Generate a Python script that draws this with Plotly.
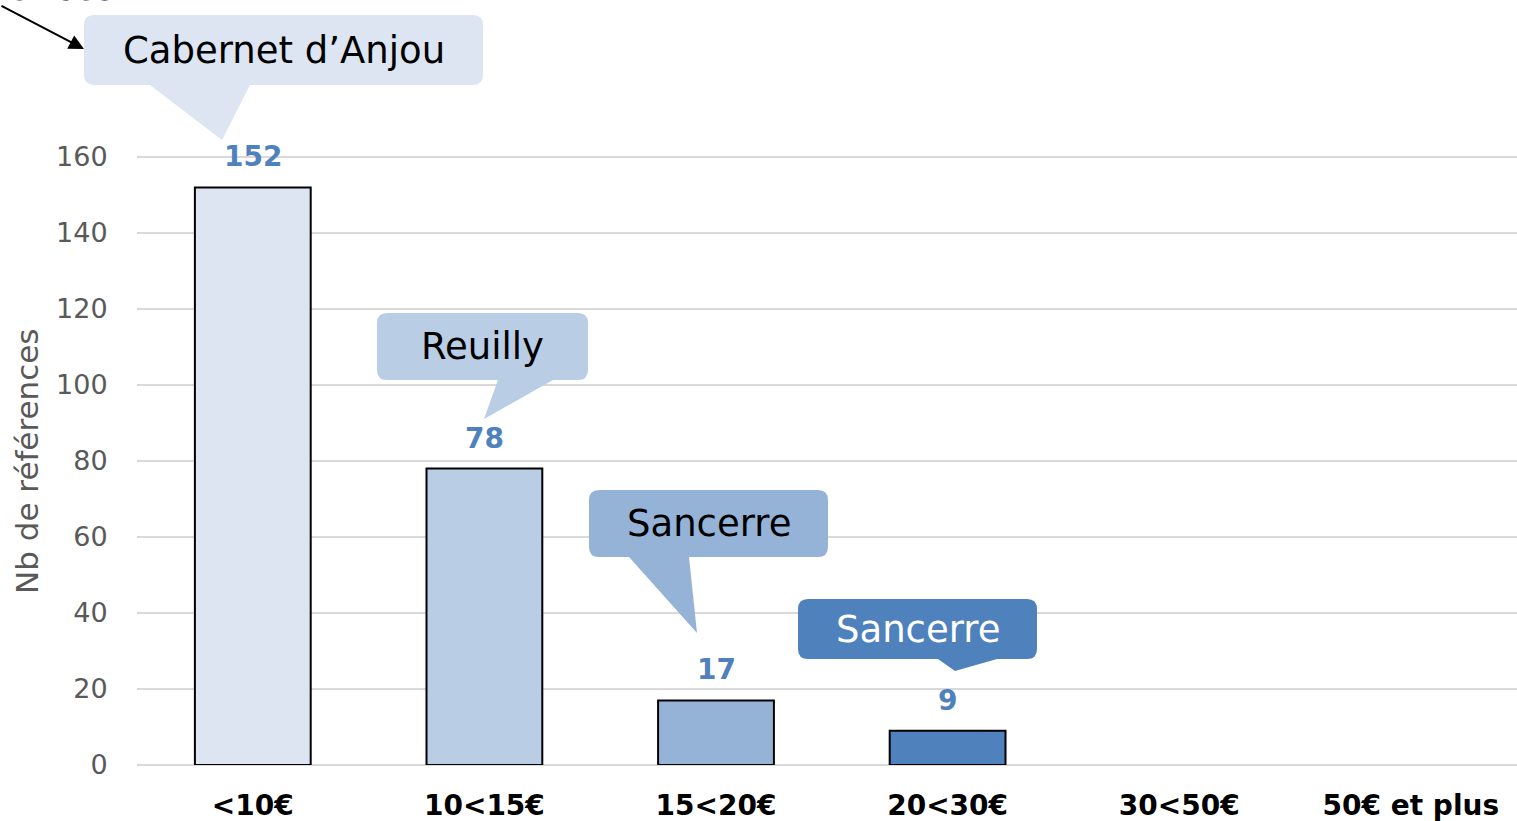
import plotly.graph_objects as go

# ---- data ----
categories = ["<10€", "10<15€", "15<20€", "20<30€", "30<50€", "50€ et plus"]
values = [152, 78, 17, 9, None, None]
bar_colors = ["#DCE5F1", "#B9CDE5", "#95B3D7", "#4F81BD", "#4F81BD", "#4F81BD"]
y_ticks = [0, 20, 40, 60, 80, 100, 120, 140, 160]
y_title = "Nb de références"
callout_texts = ["Cabernet d’Anjou", "Reuilly", "Sancerre", "Sancerre"]
callout_fills = ["#DCE5F1", "#B9CDE5", "#95B3D7", "#4F81BD"]
callout_font_colors = ["#000000", "#000000", "#000000", "#FFFFFF"]

FONT = "DejaVu Sans"
W_FIG, H_FIG = 1517, 821
L, T, R, B = 137, 5, 0, 56
PW, PH = W_FIG - L - R, H_FIG - T - B


def px(x):
    return (x - L) / PW


def py(y):
    return (T + PH - y) / PH


idx = list(range(len(categories)))
fig = go.Figure()
fig.add_trace(go.Bar(
    x=idx, y=values, width=0.5,
    marker=dict(color=bar_colors, line=dict(color="#000000", width=2)),
    hoverinfo="skip",
))

annotations = []
for i, v in zip(idx, values):
    if v is None:
        continue
    annotations.append(dict(
        x=i, y=v, xref="x", yref="y", text=f"<b>{v}</b>", showarrow=False,
        yanchor="bottom", yshift=12,
        font=dict(family=FONT, size=28, color="#4F81BD"),
    ))

# callouts: (box x0, x1, y0, y1, pointer base left, tip x, tip y, pointer base right) in pixels
callout_geom = [
    (84, 483, 15, 85, 150, 222, 140, 250),
    (377, 588, 313, 380, 498, 484, 419, 553),
    (589, 828, 490, 557, 629, 697, 633, 689),
    (798, 1037, 599, 659, 938, 955, 671, 997),
]
shapes = []
for (x0, x1, y0, y1, b1, tx, ty, b2), fill, txt, fc in zip(
        callout_geom, callout_fills, callout_texts, callout_font_colors):
    r = 10
    pts = [
        ("M", (x0 + r, y0)), ("L", (x1 - r, y0)), ("Q", (x1, y0), (x1, y0 + r)),
        ("L", (x1, y1 - r)), ("Q", (x1, y1), (x1 - r, y1)),
        ("L", (b2, y1)), ("L", (tx, ty)), ("L", (b1, y1)),
        ("L", (x0 + r, y1)), ("Q", (x0, y1), (x0, y1 - r)),
        ("L", (x0, y0 + r)), ("Q", (x0, y0), (x0 + r, y0)),
    ]
    path = ""
    for p in pts:
        cmd = p[0]
        coords = " ".join(f"{px(a):.5f},{py(b):.5f}" for a, b in p[1:])
        path += f"{cmd} {coords} "
    path += "Z"
    shapes.append(dict(type="path", path=path, xref="paper", yref="paper",
                       fillcolor=fill, line=dict(width=0), layer="above"))
    annotations.append(dict(
        x=px((x0 + x1) / 2), y=py((y0 + y1) / 2), xref="paper", yref="paper",
        text=txt, showarrow=False, xanchor="center", yanchor="middle",
        font=dict(family=FONT, size=37, color=fc),
    ))

# arrow from an off-page label
annotations.append(dict(
    x=px(84), y=py(49), xref="paper", yref="paper", ax=-90, ay=-44,
    axref="pixel", ayref="pixel", text="", showarrow=True,
    arrowhead=2, arrowsize=1.5, arrowwidth=2, arrowcolor="#000000",
))
annotations.append(dict(
    x=px(118), y=py(11), xref="paper", yref="paper", text="Références",
    showarrow=False, xanchor="right", yanchor="bottom",
    font=dict(family=FONT, size=37, color="#000000"),
))

# y-axis title (centred on the data span as in the reference)
annotations.append(dict(
    x=px(27), y=py(461), xref="paper", yref="paper", text=y_title,
    showarrow=False, textangle=-90, xanchor="center", yanchor="middle",
    font=dict(family=FONT, size=31, color="#595959"),
))

fig.update_layout(
    width=W_FIG, height=H_FIG,
    margin=dict(l=L, r=R, t=T, b=B, autoexpand=False),
    plot_bgcolor="#FFFFFF", paper_bgcolor="#FFFFFF",
    showlegend=False, bargap=0.5,
    shapes=shapes, annotations=annotations,
    xaxis=dict(
        range=[-0.5, -0.5 + PW / 231.6], tickvals=idx,
        ticktext=[f"<b>{c}</b>" for c in categories],
        tickfont=dict(family=FONT, size=28, color="#000000"),
        ticks="outside", ticklen=15, tickcolor="rgba(0,0,0,0)",
        showgrid=False, zeroline=False, showline=False, fixedrange=True,
    ),
    yaxis=dict(
        range=[0, PH / 3.8], tickvals=y_ticks,
        tickfont=dict(family=FONT, size=27, color="#595959"),
        ticks="outside", ticklen=23, tickcolor="rgba(0,0,0,0)",
        showgrid=True, gridcolor="#D9D9D9", gridwidth=1.5,
        zeroline=True, zerolinecolor="#D9D9D9", zerolinewidth=1.5,
        showline=False, fixedrange=True,
    ),
)

fig.write_html("out.html", config={"displayModeBar": False},
               post_script="document.body.style.margin='0';document.body.style.overflow='hidden';")
